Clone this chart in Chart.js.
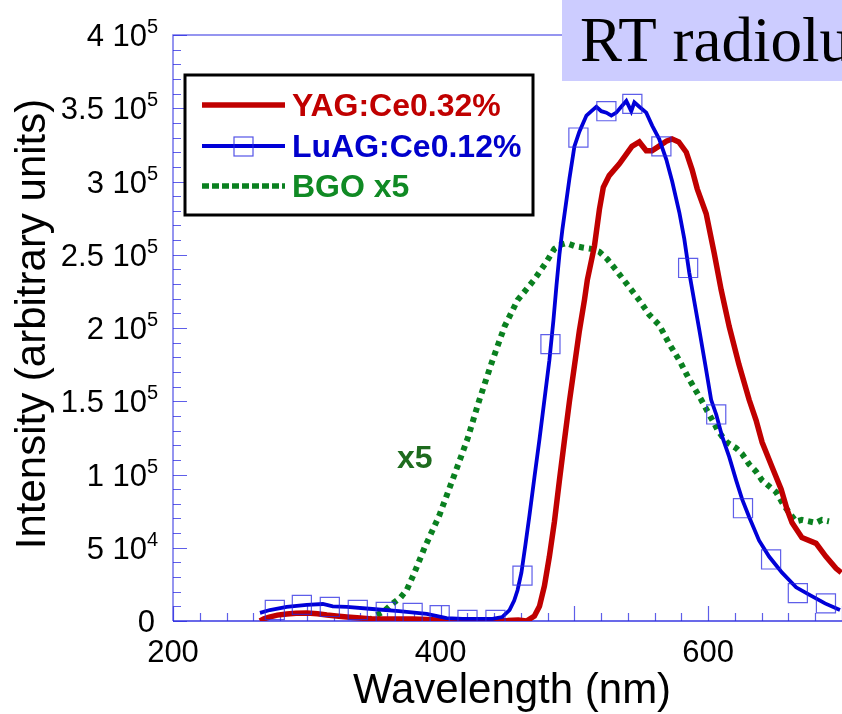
<!DOCTYPE html>
<html>
<head>
<meta charset="utf-8">
<title>RT radioluminescence</title>
<script src="https://cdn.jsdelivr.net/npm/chart.js@4.4.1/dist/chart.umd.min.js"></script>
<style>
  html, body { margin: 0; padding: 0; background: #fff; }
  #wrap { width: 842px; height: 714px; }
</style>
</head>
<body>
<div id="wrap"><canvas id="chart" width="842" height="714"></canvas></div>
<script>
'use strict';

//////// DATA ////////
// YAG:Ce0.32% (red)
const yagNm = [265, 268, 272, 278, 285, 292, 300, 308, 315, 322, 330, 340, 349, 360, 370, 379, 390, 397, 410, 420, 430, 440, 450, 458, 464.2, 470.1, 473.9, 477.6, 481.3, 485.1, 488.8, 492.5, 496.3, 500, 503.7, 507.5, 509.7, 515, 518.7, 521.6, 526, 533.6, 543, 548.5, 553.7, 558, 563, 568.7, 573, 578, 583.6, 588, 591.8, 598.5, 604.5, 609.7, 615.7, 623, 630.6, 635.8, 640.3, 647.8, 654.5, 659, 662.7, 670, 680.6, 688, 695.5, 699.5];
const yagVal = [0, 1500, 2700, 4000, 4800, 5300, 5500, 5000, 4100, 3400, 2700, 2000, 1400, 1400, 1400, 1400, 1000, 700, 500, 300, 200, 200, 300, 700, 0, 3400, 10000, 24000, 44000, 68000, 96000, 123000, 150000, 174000, 198000, 219000, 233000, 256000, 281000, 296000, 304000, 312000, 324000, 327000, 321000, 321000, 324000, 327500, 329000, 327000, 320000, 308000, 295000, 278000, 251000, 226000, 201000, 175000, 151000, 137000, 122000, 105000, 90000, 76000, 67000, 57000, 53000, 44000, 36000, 33000];

// LuAG:Ce0.12% (blue line)
const luagNm = [265, 272.4, 285, 300, 312, 319.4, 330, 349, 369, 389.6, 404.5, 416.4, 438.8, 446, 451.5, 455, 457.5, 460.4, 463.4, 466.4, 470.1, 473.9, 477.6, 481.3, 484.3, 486.6, 488.8, 491, 496.3, 500, 503.7, 509, 512.7, 516.4, 520.1, 523.9, 527.6, 531.3, 535, 538.8, 542.5, 544.8, 548.5, 553.7, 558.2, 563.4, 568.7, 573.1, 578.4, 582.1, 585.8, 593.3, 597.8, 602.2, 606, 610.4, 615.7, 620.9, 625.4, 630.6, 638, 645.5, 655.2, 665.7, 675.4, 687.3, 698.5];
const luagVal = [5500, 7500, 9600, 11000, 11600, 10000, 9600, 8200, 6800, 4800, 2000, 1400, 1400, 2700, 7500, 14000, 21000, 33000, 52000, 72000, 98000, 124000, 151000, 178000, 205000, 229000, 250000, 267000, 302000, 324000, 334000, 345000, 348000, 351000, 348000, 347000, 345000, 347000, 351000, 355000, 348000, 354000, 351000, 347000, 338000, 329000, 315000, 300000, 279000, 261000, 238000, 199000, 175000, 151000, 141000, 126000, 112000, 96000, 83000, 71000, 55000, 44000, 33000, 23000, 18000, 12000, 7500];

// LuAG square markers
const luagMarkNm = [276.1, 296.3, 317.2, 338.1, 359, 379.1, 399.3, 420.1, 441, 461.2, 482.1, 503, 523.9, 543.3, 565, 585, 606, 626, 647, 667, 688];
const luagMarkVal = [7500, 11000, 9600, 7500, 6200, 5500, 4000, 700, 700, 31000, 189000, 330000, 348000, 353000, 324000, 241000, 141000, 77000, 42000, 19000, 12000];

// BGO x5 (green)
const bgoNm = [346.3, 352.2, 358.2, 364.2, 370, 374.6, 380, 388, 399, 410.4, 420, 429, 438.8, 447.8, 457.5, 470, 479, 485, 490.3, 494, 500, 506, 512.7, 518.7, 524.6, 529.9, 535, 548.5, 556, 563.4, 571, 578.4, 585.8, 594.8, 600.7, 604.5, 606.7, 610.4, 614, 620.9, 625.4, 630.6, 635.8, 640.3, 645.5, 650.7, 655.2, 660.4, 665.7, 670, 675.4, 680.6, 685, 690.3];
const bgoVal = [0, 4000, 7000, 12000, 16000, 21000, 32000, 50000, 72000, 100000, 124000, 151000, 178000, 201000, 219000, 233000, 245000, 254000, 257000, 258000, 256000, 255000, 254000, 252000, 247000, 241000, 235000, 219000, 209000, 202000, 189000, 178000, 165000, 151000, 141000, 135000, 131000, 126000, 122000, 118000, 114000, 107000, 102000, 96000, 92000, 88000, 81000, 74000, 68000, 69000, 68000, 67000, 69000, 68000];

// ticks
const xTickVals = [200, 400, 600];
const yTickVals = [0, 50000, 100000, 150000, 200000, 250000, 300000, 350000, 400000];
const yTickText = ['0', '5 10', '1 10', '1.5 10', '2 10', '2.5 10', '3 10', '3.5 10', '4 10'];
const yTickExp = ['', '4', '5', '5', '5', '5', '5', '5', '5'];

const legendNames = ['YAG:Ce0.32%', 'LuAG:Ce0.12%', 'BGO x5'];

//////// HELPERS ////////
function toPoints(xs, ys) {
  let pts = [];
  for (let i = 0; i < xs.length; i++) {
    pts.push({ x: xs[i], y: ys[i] });
  }
  return pts;
}

const RED = '#c00000';
const BLUE = '#0000d8';
const GREEN = '#0a8020';
const AXIS = 'rgba(20,20,220,0.85)';
const SANS = '"Liberation Sans", Arial, sans-serif';

//////// DECOR PLUGINS ////////
// axes + inward ticks under the curves
const axesUnder = {
  id: 'axesUnder',
  beforeDatasetsDraw(chart) {
    const ctx = chart.ctx;
    const xs = chart.scales.x;
    const ys = chart.scales.y;
    const a = chart.chartArea;
    ctx.save();
    ctx.lineWidth = 1.5;
    // top + left: lighter
    ctx.strokeStyle = 'rgba(40,40,225,0.65)';
    ctx.beginPath();
    ctx.moveTo(a.right, a.top);
    ctx.lineTo(a.left, a.top);
    ctx.lineTo(a.left, a.bottom);
    ctx.stroke();
    // bottom
    ctx.strokeStyle = AXIS;
    ctx.beginPath();
    ctx.moveTo(a.left, a.bottom);
    ctx.lineTo(a.right, a.bottom);
    ctx.stroke();

    ctx.lineWidth = 1.2;
    ctx.strokeStyle = 'rgba(40,40,225,0.75)';
    ctx.beginPath();
    for (let v = 200; v <= 700; v += 20) {
      let px = Math.round(xs.getPixelForValue(v)) + 0.5;
      let len = (v % 100 === 0) ? 15 : 8;
      ctx.moveTo(px, a.bottom);
      ctx.lineTo(px, a.bottom - len);
    }
    for (let v = 0; v <= 400000; v += 10000) {
      let py = Math.round(ys.getPixelForValue(v)) + 0.5;
      let len = (v % 50000 === 0) ? 14 : 8;
      ctx.moveTo(a.left, py);
      ctx.lineTo(a.left + len, py);
    }
    ctx.stroke();
    ctx.restore();
  }
};

// labels, titles, legend, title box
const decor = {
  id: 'decor',
  afterDraw(chart) {
    const ctx = chart.ctx;
    const xs = chart.scales.x;
    const ys = chart.scales.y;
    ctx.save();
    ctx.fillStyle = '#000';

    // x tick labels
    ctx.font = '31px ' + SANS;
    ctx.textAlign = 'center';
    ctx.textBaseline = 'alphabetic';
    for (let i = 0; i < xTickVals.length; i++) {
      ctx.fillText(String(xTickVals[i]), xs.getPixelForValue(xTickVals[i]), 662);
    }

    // y tick labels with superscript exponent
    for (let i = 0; i < yTickVals.length; i++) {
      let py = ys.getPixelForValue(yTickVals[i]);
      ctx.font = '31px ' + SANS;
      ctx.textAlign = 'right';
      if (yTickExp[i] === '') {
        ctx.fillText(yTickText[i], 155, py + 11);
      } else {
        ctx.fillText(yTickText[i], 147, py + 11);
        ctx.font = '20px ' + SANS;
        ctx.textAlign = 'left';
        ctx.fillText(yTickExp[i], 147, py - 2);
      }
    }

    // axis titles
    ctx.font = '42px ' + SANS;
    ctx.textAlign = 'center';
    ctx.fillText('Wavelength (nm)', 512, 703);
    ctx.save();
    ctx.translate(45, 324);
    ctx.rotate(-Math.PI / 2);
    ctx.fillText('Intensity (arbitrary units)', 0, 0);
    ctx.restore();

    // x5 note
    ctx.font = 'bold 32px ' + SANS;
    ctx.textAlign = 'left';
    ctx.fillStyle = '#1e6b1e';
    ctx.fillText('x5', 397, 468);

    // legend box
    ctx.fillStyle = '#fff';
    ctx.fillRect(185, 75, 348, 140);
    ctx.strokeStyle = '#000';
    ctx.lineWidth = 3;
    ctx.strokeRect(185, 75, 348, 140);

    const rows = [105, 146, 186];
    const cols = [RED, BLUE, GREEN];
    const widths = [5.5, 3.8, 5.5];
    const txtCols = ['#c00000', '#0000cc', '#108a24'];
    for (let i = 0; i < 3; i++) {
      ctx.strokeStyle = cols[i];
      ctx.lineWidth = widths[i];
      ctx.setLineDash(i === 2 ? [7, 3] : []);
      ctx.beginPath();
      ctx.moveTo(202, rows[i]);
      ctx.lineTo(285, rows[i]);
      ctx.stroke();
      ctx.setLineDash([]);
      ctx.font = 'bold 32px ' + SANS;
      ctx.fillStyle = txtCols[i];
      ctx.textAlign = 'left';
      ctx.fillText(legendNames[i], 292, rows[i] + 11);
    }
    ctx.strokeStyle = 'rgba(40,40,225,0.8)';
    ctx.lineWidth = 1.2;
    ctx.strokeRect(234, 137, 19, 19);

    // title box, cut by the right edge
    ctx.fillStyle = '#ccccff';
    ctx.fillRect(562, 0, 280, 81);
    ctx.fillStyle = '#000';
    ctx.font = '63px "Liberation Serif", "Times New Roman", serif';
    ctx.textAlign = 'left';
    ctx.fillText('RT radiolu', 580, 61);

    ctx.restore();
  }
};

//////// CHART ////////
new Chart(document.getElementById('chart'), {
  type: 'scatter',
  data: {
    datasets: [
      {
        label: 'LuAG markers',
        data: toPoints(luagMarkNm, luagMarkVal),
        showLine: false,
        pointStyle: 'rect',
        pointRadius: 13.5,
        borderColor: 'rgba(40,40,225,0.75)',
        backgroundColor: 'rgba(0,0,0,0)',
        borderWidth: 1.2,
        order: 0
      },
      {
        label: legendNames[1],
        data: toPoints(luagNm, luagVal),
        showLine: true,
        borderColor: BLUE,
        borderWidth: 3.8,
        pointRadius: 0,
        tension: 0,
        order: 1
      },
      {
        label: legendNames[0],
        data: toPoints(yagNm, yagVal),
        showLine: true,
        borderColor: RED,
        borderWidth: 5.5,
        pointRadius: 0,
        tension: 0,
        order: 2
      },
      {
        label: legendNames[2],
        data: toPoints(bgoNm, bgoVal),
        showLine: true,
        borderColor: GREEN,
        borderWidth: 6,
        borderDash: [5, 5],
        pointRadius: 0,
        tension: 0,
        order: 3
      }
    ]
  },
  options: {
    responsive: false,
    animation: false,
    layout: { autoPadding: false, padding: { top: 35, right: 0, bottom: 0, left: 0 } },
    plugins: {
      legend: { display: false },
      tooltip: { enabled: false }
    },
    scales: {
      x: {
        type: 'linear',
        min: 200,
        max: 700,
        ticks: { display: false, stepSize: 20 },
        grid: { display: false },
        border: { display: false },
        afterFit: function (s) { s.height = 93; }
      },
      y: {
        type: 'linear',
        min: 0,
        max: 400000,
        ticks: { display: false, stepSize: 10000 },
        grid: { display: false },
        border: { display: false },
        afterFit: function (s) { s.width = 173; }
      }
    }
  },
  plugins: [axesUnder, decor]
});
</script>
</body>
</html>
